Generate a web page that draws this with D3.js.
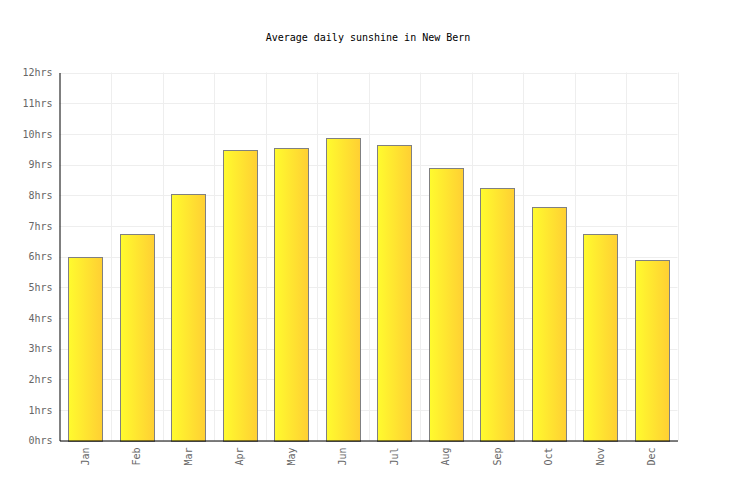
<!DOCTYPE html>
<html><head><meta charset="utf-8">
<script src="https://cdn.jsdelivr.net/npm/d3@7"></script>
<style>body{margin:0;background:#fff}svg{display:block}</style>
</head><body>
<svg id="c" width="736" height="500"></svg>
<script>
const months = ["Jan","Feb","Mar","Apr","May","Jun","Jul","Aug","Sep","Oct","Nov","Dec"];
const sunshine = [6.0,6.72,8.05,9.46,9.55,9.88,9.65,8.9,8.22,7.6,6.72,5.87];
const yTicks = [0,1,2,3,4,5,6,7,8,9,10,11,12];
const title = "Average daily sunshine in New Bern";

const svg = d3.select("#c");
const m = {l:59.5, r:677.5, t:72.5, b:440.5};
const x = d3.scaleBand().domain(months).range([m.l, m.r]).paddingInner(0.34).paddingOuter(0.17);
const xb = d3.scaleBand().domain(months).range([m.l, m.r]);
const y = d3.scaleLinear().domain([0,12]).range([m.b, m.t]);
const font = "'DejaVu Sans Mono', monospace";

const defs = svg.append("defs");
const g = defs.append("linearGradient").attr("id","bg").attr("x1","0").attr("x2","1").attr("y1","0").attr("y2","0");
g.append("stop").attr("offset","0").attr("stop-color","#fffb2e");
g.append("stop").attr("offset","1").attr("stop-color","#ffcf33");

// grid
svg.append("g").selectAll("line").data(yTicks).join("line")
  .attr("x1", m.l).attr("x2", m.r).attr("y1", d=>Math.round(y(d))+0.5).attr("y2", d=>Math.round(y(d))+0.5)
  .attr("stroke","#eeeeee").attr("stroke-width",1);
svg.append("g").selectAll("line").data(months).join("line")
  .attr("x1", d=>Math.round(xb(d)+xb.bandwidth())+0.5).attr("x2", d=>Math.round(xb(d)+xb.bandwidth())+0.5)
  .attr("y1", m.t).attr("y2", m.b).attr("stroke","#eeeeee").attr("stroke-width",1);

// bars
svg.append("g").selectAll("rect").data(months).join("rect")
  .attr("x", d=>Math.round(x(d))+0.5)
  .attr("width", Math.round(x.bandwidth()))
  .attr("y", (d,i)=>Math.round(y(sunshine[i]))+0.5)
  .attr("height", (d,i)=>Math.round(y(0))-Math.round(y(sunshine[i])))
  .attr("fill","url(#bg)").attr("stroke","#808080").attr("stroke-width",1);

// axes
const ya = d3.axisLeft(y).tickValues(yTicks).tickFormat(d=>d+"hrs").tickSize(0).tickPadding(7);
const yg = svg.append("g").attr("transform","translate("+m.l+",0)").call(ya);
yg.select(".domain").attr("stroke","#000");
yg.selectAll("text").attr("font-family",font).attr("font-size","10px").attr("fill","#666");

const xa = d3.axisBottom(x).tickSize(0).tickPadding(0);
const xg = svg.append("g").attr("transform","translate(0,"+m.b+")").call(xa);
xg.select(".domain").attr("stroke","#000");
xg.selectAll("text").attr("font-family",font).attr("font-size","10px").attr("fill","#666")
  .attr("transform","rotate(-90)").attr("text-anchor","end").attr("dy","0.35em").attr("x",-7).attr("y",0);

svg.append("text").attr("x",368).attr("y",41).attr("text-anchor","middle")
  .attr("font-family",font).attr("font-size","10px").attr("fill","#000").text(title);
</script>
</body></html>
